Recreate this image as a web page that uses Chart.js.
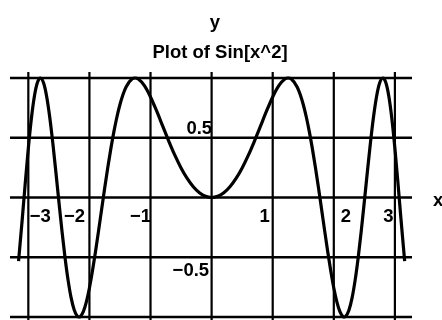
<!DOCTYPE html>
<html>
<head>
<meta charset="utf-8">
<script src="https://cdn.jsdelivr.net/npm/chart.js@4.4.1/dist/chart.umd.min.js"></script>
<style>
  html, body { margin: 0; padding: 0; background: #fff; }
  #wrap { width: 442px; height: 320px; }
</style>
</head>
<body>
<div id="wrap"><canvas id="plot"></canvas></div>
<script>
// sampled points of Sin[x^2]
const xs = [
  -3.16, -3.1, -3.05, -3.0, -2.95, -2.9, -2.85, -2.8025, -2.75, -2.7, -2.65, -2.6,
  -2.55, -2.5, -2.45, -2.4, -2.35, -2.3, -2.25, -2.2, -2.1708, -2.15, -2.1, -2.05,
  -2.0, -1.95, -1.9, -1.85, -1.8, -1.75, -1.7, -1.65, -1.6, -1.55, -1.5, -1.45,
  -1.4, -1.3, -1.2533, -1.2, -1.1, -1.0, -0.9, -0.8, -0.7, -0.6, -0.5, -0.4,
  -0.3, -0.2, -0.1, 0,
  0.1, 0.2, 0.3, 0.4, 0.5, 0.6, 0.7, 0.8, 0.9, 1.0, 1.1, 1.2,
  1.2533, 1.3, 1.4, 1.45, 1.5, 1.55, 1.6, 1.65, 1.7, 1.75, 1.8, 1.85,
  1.9, 1.95, 2.0, 2.05, 2.1, 2.15, 2.1708, 2.2, 2.25, 2.3, 2.35, 2.4,
  2.45, 2.5, 2.55, 2.6, 2.65, 2.7, 2.75, 2.8025, 2.85, 2.9, 2.95, 3.0,
  3.05, 3.1, 3.16
];
const ys = [
  -0.5318, -0.1841, 0.1220, 0.4121, 0.6611, 0.8496, 0.9642, 1, 0.9578, 0.8455, 0.6738, 0.4589,
  0.2175, -0.0332, -0.2770, -0.4997, -0.6894, -0.8380, -0.9393, -0.9918, -1, -0.9960, -0.9547, -0.8728,
  -0.7568, -0.6138, -0.4515, -0.2772, -0.0982, 0.0790, 0.2490, 0.4069, 0.5494, 0.6737, 0.7781, 0.8620,
  0.9252, 0.9929, 1, 0.9915, 0.9356, 0.8415, 0.7243, 0.5972, 0.4706, 0.3523, 0.2474, 0.1593,
  0.0899, 0.0400, 0.0100, 0,
  0.0100, 0.0400, 0.0899, 0.1593, 0.2474, 0.3523, 0.4706, 0.5972, 0.7243, 0.8415, 0.9356, 0.9915,
  1, 0.9929, 0.9252, 0.8620, 0.7781, 0.6737, 0.5494, 0.4069, 0.2490, 0.0790, -0.0982, -0.2772,
  -0.4515, -0.6138, -0.7568, -0.8728, -0.9547, -0.9960, -1, -0.9918, -0.9393, -0.8380, -0.6894, -0.4997,
  -0.2770, -0.0332, 0.2175, 0.4589, 0.6738, 0.8455, 0.9578, 1, 0.9642, 0.8496, 0.6611, 0.4121,
  0.1220, -0.1841, -0.5318
];

const xTicks = [-3, -2, -1, 0, 1, 2, 3];
const xTickLabels = ['\u22123', '\u22122', '\u22121', '', '1', '2', '3'];
const yTicks = [-1, -0.5, 0, 0.5, 1];
const yTickLabels = ['', '\u22120.5', '', '0.5', ''];

const titleText = 'Plot of Sin[x^2]';
const xAxisName = 'x';
const yAxisName = 'y';

// nudges for the x tick labels (px, from each grid line)
const xLabelNudge = [12, -15, -10, 0, -8, 12, -6.5];

const FONT = 'bold 18.5px "Liberation Sans", Arial, sans-serif';

const points = xs.map((x, i) => ({ x: x, y: ys[i] }));

const gridAndText = {
  id: 'gridAndText',
  beforeDatasetsDraw(chart) {
    const { ctx, chartArea, scales: { x, y } } = chart;
    ctx.save();
    ctx.strokeStyle = '#000';
    ctx.lineWidth = 2.5;
    ctx.beginPath();
    yTicks.forEach(v => {
      const py = y.getPixelForValue(v);
      ctx.moveTo(chartArea.left, py);
      ctx.lineTo(chartArea.right, py);
    });
    ctx.stroke();
    ctx.lineWidth = 2.2;
    ctx.beginPath();
    xTicks.forEach(v => {
      const px = x.getPixelForValue(v);
      ctx.moveTo(px, chartArea.top - 6);
      ctx.lineTo(px, chart.height);
    });
    ctx.stroke();
    ctx.restore();
  },
  afterDraw(chart) {
    const { ctx, chartArea, scales: { x, y } } = chart;
    ctx.save();
    ctx.fillStyle = '#000';
    ctx.font = FONT;
    ctx.textBaseline = 'alphabetic';

    ctx.textAlign = 'center';
    ctx.fillText(yAxisName, 215, chartArea.top - 50);
    ctx.fillText(titleText, 220, chartArea.top - 20);

    ctx.textAlign = 'left';
    ctx.fillText(xAxisName, chartArea.right + 21, y.getPixelForValue(0) + 8);

    const y0 = y.getPixelForValue(0);
    ctx.textAlign = 'center';
    xTicks.forEach((v, i) => {
      if (!xTickLabels[i]) return;
      ctx.fillText(xTickLabels[i], x.getPixelForValue(v) + xLabelNudge[i], y0 + 24);
    });

    const x0 = x.getPixelForValue(0);
    ctx.textAlign = 'right';
    yTicks.forEach((v, i) => {
      if (!yTickLabels[i]) return;
      const py = y.getPixelForValue(v);
      if (v > 0) ctx.fillText(yTickLabels[i], x0 + 0.5, py - 3.5);
      else ctx.fillText(yTickLabels[i], x0 - 2.5, py + 19);
    });
    ctx.restore();
  }
};

new Chart(document.getElementById('plot'), {
  type: 'line',
  data: {
    datasets: [{
      data: points,
      borderColor: '#000',
      borderWidth: 3.2,
      pointRadius: 0,
      fill: false,
      cubicInterpolationMode: 'monotone',
      clip: false
    }]
  },
  options: {
    responsive: true,
    maintainAspectRatio: false,
    animation: false,
    layout: { padding: { left: 10, right: 30, top: 78, bottom: 3 } },
    plugins: {
      legend: { display: false },
      tooltip: { enabled: false },
      title: { display: false }
    },
    scales: {
      x: { type: 'linear', min: -3.3, max: 3.28, display: false },
      y: { type: 'linear', min: -1, max: 1, display: false }
    }
  },
  plugins: [gridAndText]
});
</script>
</body>
</html>
